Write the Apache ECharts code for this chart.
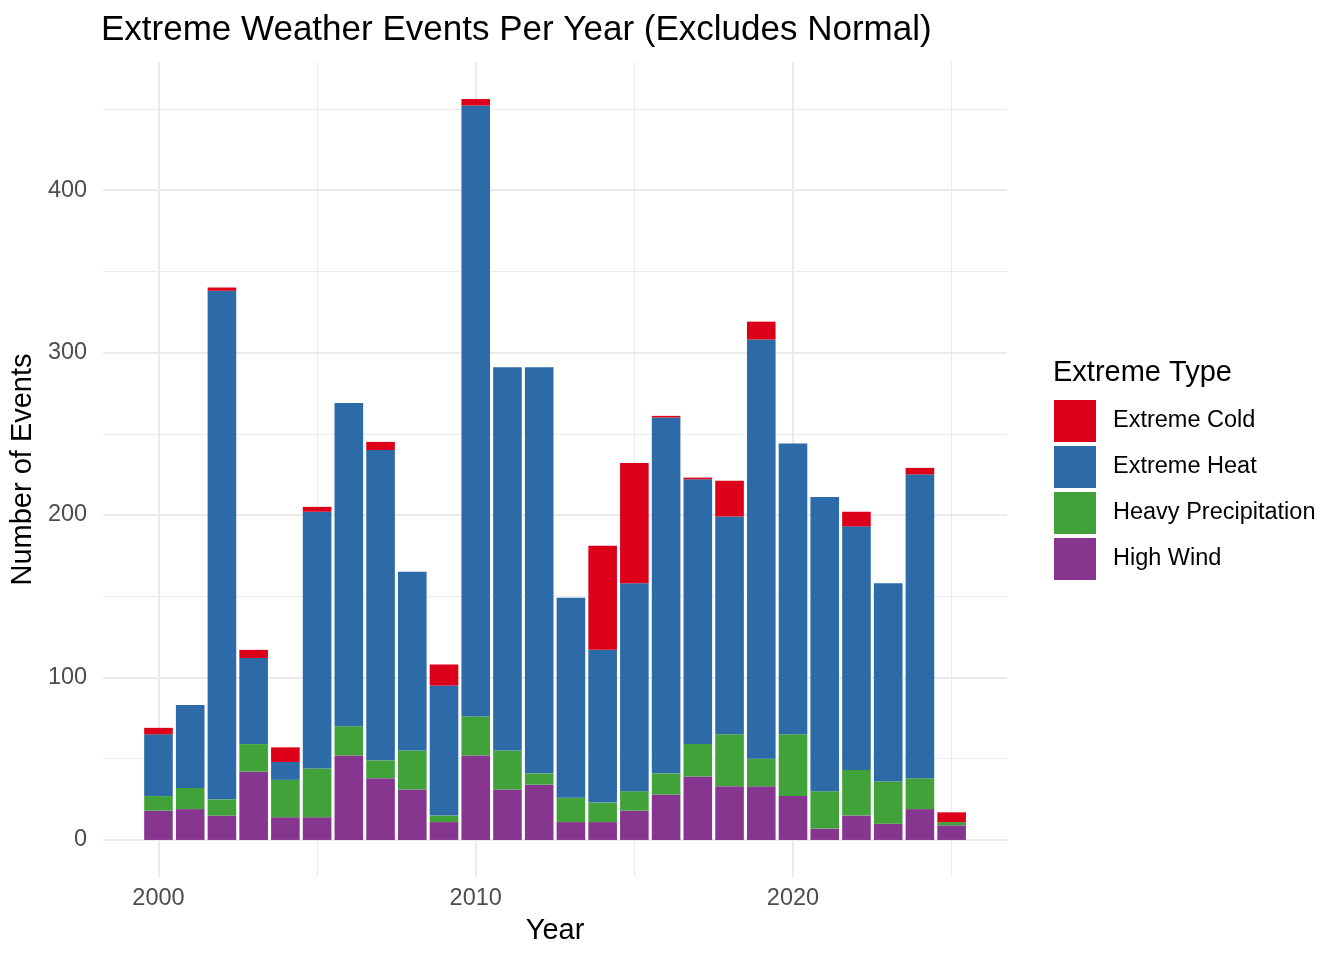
<!DOCTYPE html>
<html>
<head>
<meta charset="utf-8">
<title>Extreme Weather Events Per Year</title>
<script src="https://cdn.jsdelivr.net/npm/echarts@6/dist/echarts.min.js"></script>
<style>
  html, body { margin: 0; padding: 0; background: #fff; }
  #chart { width: 1344px; height: 960px; }
</style>
</head>
<body>
<div id="chart"></div>
<script>
// years and counts per extreme type
var years = [2000, 2001, 2002, 2003, 2004, 2005, 2006, 2007, 2008, 2009, 2010, 2011, 2012,
             2013, 2014, 2015, 2016, 2017, 2018, 2019, 2020, 2021, 2022, 2023, 2024, 2025];
var highWind = [18, 19, 15, 42, 14, 14, 52, 38, 31, 11, 52, 31, 34, 11, 11, 18, 28, 39, 33, 33, 27, 7, 15, 10, 19, 9];
var heavyPrecip = [9, 13, 10, 17, 23, 30, 18, 11, 24, 4, 24, 24, 7, 15, 12, 12, 13, 20, 32, 17, 38, 23, 28, 26, 19, 2];
var extremeHeat = [38, 51, 313, 53, 11, 158, 199, 191, 110, 80, 376, 236, 250, 123, 94, 128, 219, 163, 134, 258, 179, 181, 150, 122, 187, 0];
var extremeCold = [4, 0, 2, 5, 9, 3, 0, 5, 0, 13, 4, 0, 0, 0, 64, 74, 1, 1, 22, 11, 0, 0, 9, 0, 4, 6];

// tick labels / grid lines
var xMajor = [2000, 2010, 2020];
var xMinor = [2005, 2015, 2025];
var yMajor = [0, 100, 200, 300, 400];
var yMinor = [50, 150, 250, 350, 450];

var chart = echarts.init(document.getElementById('chart'));

// value first so the stack is done on the count, year goes on x through encode
function pairs(vals) {
  return years.map(function (y, i) { return [vals[i], y]; });
}

var font = 'Liberation Sans, Arial, Helvetica, sans-serif';
var gridColor = '#ebebeb';

function barSeries(name, vals, color) {
  return {
    name: name,
    type: 'bar',
    stack: 'total',
    barWidth: 28.6,
    encode: { x: 1, y: 0 },
    data: pairs(vals),
    itemStyle: { color: color },
    emphasis: { disabled: true }
  };
}

function plain(v) { return String(v); }

var option = {
  animation: false,
  textStyle: { fontFamily: font },
  title: [
    {
      text: 'Extreme Weather Events Per Year (Excludes Normal)',
      left: 96,
      top: 8,
      textStyle: { fontSize: 35, fontWeight: 'normal', color: '#000', fontFamily: font }
    },
    {
      text: 'Extreme Type',
      left: 1048,
      top: 353,
      textStyle: { fontSize: 29, fontWeight: 'normal', color: '#000', fontFamily: font }
    }
  ],
  legend: {
    orient: 'vertical',
    left: 1054,
    top: 400,
    padding: 0,
    icon: 'rect',
    itemWidth: 42,
    itemHeight: 42,
    itemGap: 4,
    data: ['Extreme Cold', 'Extreme Heat', 'Heavy Precipitation', 'High Wind'],
    textStyle: { fontSize: 23.5, color: '#000', fontFamily: font, padding: [0, 0, 0, 12] }
  },
  grid: { left: 102, right: 337, top: 62, bottom: 83 },
  xAxis: [
    {
      type: 'value',
      min: 1998.255,
      max: 2026.745,
      name: 'Year',
      nameLocation: 'middle',
      nameGap: 39,
      nameTextStyle: { fontSize: 29, color: '#000', fontFamily: font },
      axisLine: { show: false },
      axisTick: { show: false, customValues: xMajor },
      axisLabel: { customValues: xMajor, formatter: plain, fontSize: 23.5, color: '#4d4d4d', margin: 10, fontFamily: font },
      splitLine: { show: true, lineStyle: { color: gridColor, width: 2 } }
    },
    {
      type: 'value',
      min: 1998.255,
      max: 2026.745,
      axisLine: { show: false },
      axisTick: { show: false, customValues: xMinor },
      axisLabel: { show: false, customValues: xMinor },
      splitLine: { show: true, lineStyle: { color: gridColor, width: 1 } }
    }
  ],
  yAxis: [
    {
      type: 'value',
      min: -22.8,
      max: 478.8,
      name: 'Number of Events',
      nameLocation: 'middle',
      nameGap: 56,
      nameTextStyle: { fontSize: 29, color: '#000', fontFamily: font },
      axisLine: { show: false },
      axisTick: { show: false, customValues: yMajor },
      axisLabel: { customValues: yMajor, formatter: plain, fontSize: 23.5, color: '#4d4d4d', margin: 16, fontFamily: font },
      splitLine: { show: true, lineStyle: { color: gridColor, width: 2 } }
    },
    {
      type: 'value',
      min: -22.8,
      max: 478.8,
      position: 'left',
      axisLine: { show: false },
      axisTick: { show: false, customValues: yMinor },
      axisLabel: { show: false, customValues: yMinor },
      splitLine: { show: true, lineStyle: { color: gridColor, width: 1 } }
    }
  ],
  series: [
    barSeries('High Wind', highWind, '#86368f'),
    barSeries('Heavy Precipitation', heavyPrecip, '#42a23a'),
    barSeries('Extreme Heat', extremeHeat, '#2c6aa8'),
    barSeries('Extreme Cold', extremeCold, '#dc001a')
  ]
};

chart.setOption(option);
</script>
</body>
</html>
